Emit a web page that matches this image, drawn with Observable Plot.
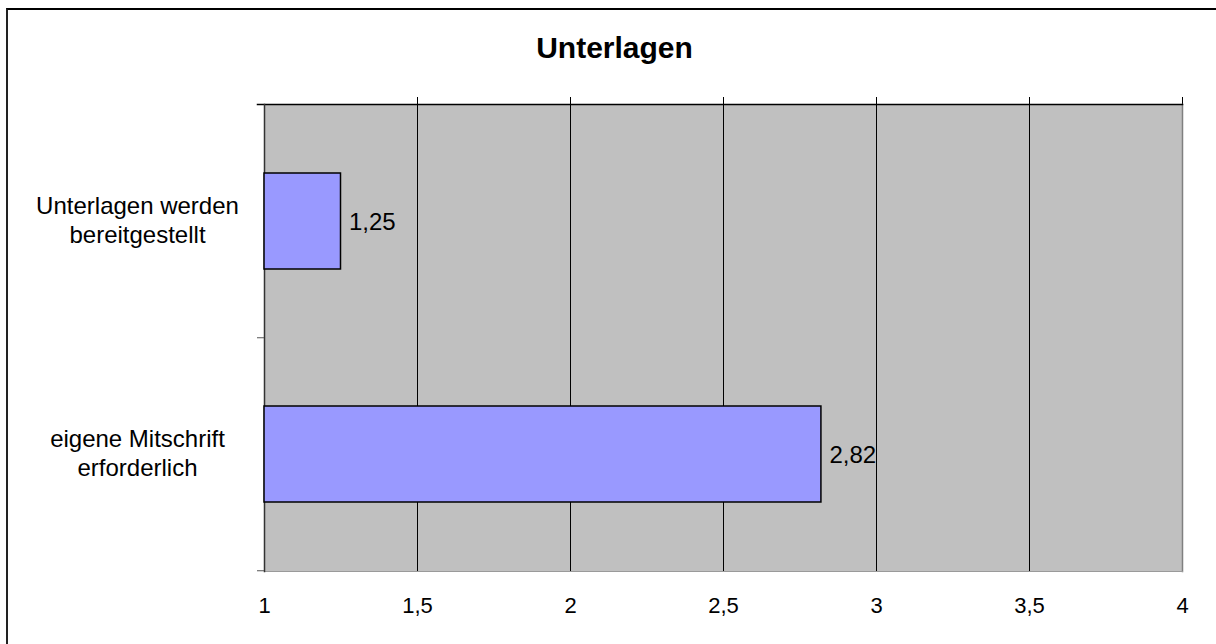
<!DOCTYPE html>
<html>
<head>
<meta charset="utf-8">
<script src="https://cdn.jsdelivr.net/npm/d3@7"></script>
<script src="https://cdn.jsdelivr.net/npm/@observablehq/plot@0.6"></script>
<style>
  html, body { margin: 0; padding: 0; background: #fff; overflow: hidden; }
  #wrap { position: relative; width: 1216px; height: 644px; }
  #border { position: absolute; left: 6px; top: 8px; width: 1300px; height: 700px;
            border-left: 2px solid #222; border-top: 2px solid #000; box-sizing: border-box; }
  #chart { position: absolute; left: 0; top: 0; }
</style>
</head>
<body>
<div id="wrap"><div id="border"></div><div id="chart"></div></div>
<script>
const title = "Unterlagen";
const categories = ["Unterlagen werden\nbereitgestellt", "eigene Mitschrift\nerforderlich"];
const values = [1.25, 2.82];
const xTicks = [1, 1.5, 2, 2.5, 3, 3.5, 4];
const gridValues = [1.5, 2, 2.5, 3, 3.5, 4];

const fmt = v => String(v).replace(".", ",");
const data = categories.map((c, i) => ({category: c, value: values[i]}));

const W = 1216, H = 644, mT = 104, mB = 73, mL = 264, mR = 34;
const step = (H - mT - mB) / categories.length;
const font = "Liberation Sans, Arial, sans-serif";

const chart = Plot.plot({
  width: W,
  height: H,
  marginTop: mT,
  marginBottom: mB,
  marginLeft: mL,
  marginRight: mR,
  style: {fontFamily: font, background: "transparent", overflow: "visible"},
  x: {domain: [1, 4], axis: null},
  y: {domain: categories, axis: null, paddingInner: 0.6, paddingOuter: 0.3},
  marks: [
    Plot.frame({fill: "#c0c0c0", stroke: "none"}),
    Plot.ruleX(gridValues, {stroke: "#000", strokeWidth: 1, insetTop: -7}),
    Plot.frame({anchor: "right", stroke: "#808080", strokeWidth: 1.5}),
    Plot.frame({anchor: "bottom", stroke: "#9a9a9a", strokeWidth: 1}),
    Plot.frame({anchor: "top", stroke: "#000", strokeWidth: 1.5, insetLeft: -7}),
    Plot.frame({anchor: "left", stroke: "#333", strokeWidth: 1.5}),
    Plot.ruleY([categories[0]], {x1: 1, x2: 1, insetLeft: -7, dy: step / 2, stroke: "#555"}),
    Plot.ruleY([categories[1]], {x1: 1, x2: 1, insetLeft: -7, dy: step / 2, stroke: "#555"}),
    Plot.barX(data, {y: "category", x1: 1, x2: "value", fill: "#9999ff", stroke: "#000", strokeWidth: 1.5, insetTop: -1, insetBottom: -2}),
    Plot.text(data, {y: "category", x: "value", text: d => fmt(d.value), dx: 8, dy: 1, textAnchor: "start",
      fontSize: 24, fill: "#000"}),
    Plot.text(categories, {y: d => d, frameAnchor: "left", dx: -127, dy: -2, textAnchor: "middle",
      fontSize: 24, lineHeight: 1.24, fill: "#000"}),
    Plot.text(xTicks, {x: d => d, text: d => fmt(d), frameAnchor: "bottom", lineAnchor: "middle", dy: 34,
      fontSize: 22, fill: "#000"}),
    Plot.text([title], {frameAnchor: "top", lineAnchor: "middle", dx: -109, dy: -56, fontSize: 30, fontWeight: "bold", fill: "#000"})
  ]
});
document.getElementById("chart").appendChild(chart);
</script>
</body>
</html>
